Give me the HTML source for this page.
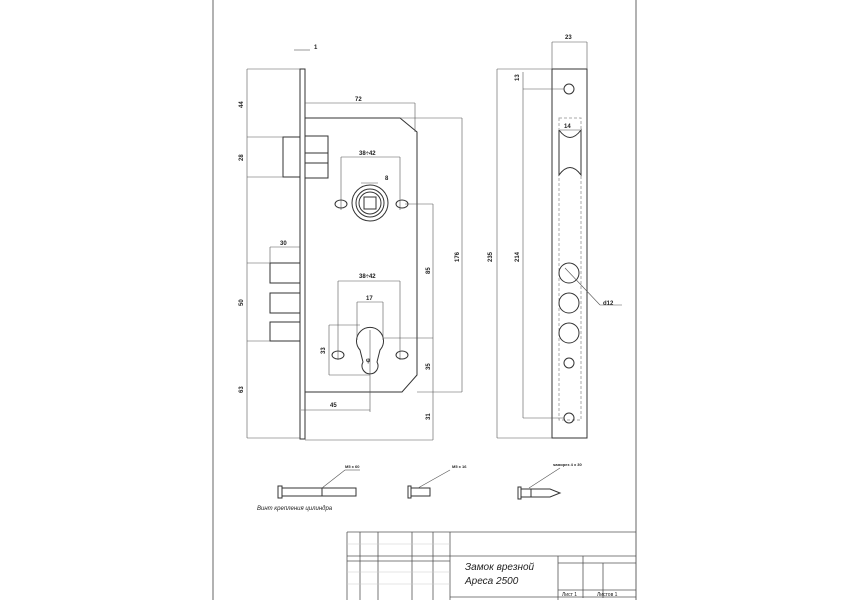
<!DOCTYPE html><html><head><meta charset="utf-8"><style>body{margin:0;background:#fff}svg{display:block}text{font-family:"Liberation Sans",sans-serif;fill:#222}</style></head><body>
<svg width="850" height="600" viewBox="0 0 850 600" xmlns="http://www.w3.org/2000/svg">
<g stroke="#999" stroke-width="1.5" fill="none"><line x1="213" y1="0" x2="213" y2="600"/><line x1="636" y1="0" x2="636" y2="600"/></g>
<g stroke="#333" stroke-width="1" fill="none">
<!-- faceplate -->
<rect x="300" y="69" width="5" height="370"/>
<!-- body -->
<path d="M305 118 H400 L417 132 V375 L402 392 H305"/>
<!-- latch -->
<rect x="283" y="137" width="17" height="40"/>
<rect x="305" y="136" width="23" height="42"/>
<line x1="305" y1="153" x2="328" y2="153"/><line x1="305" y1="163" x2="328" y2="163"/>
<!-- bolts -->
<rect x="270" y="263" width="30" height="20"/><rect x="270" y="293" width="30" height="20"/><rect x="270" y="322" width="30" height="19"/>
<!-- spindle -->
<circle cx="370" cy="203" r="18"/><circle cx="370" cy="203" r="14"/><circle cx="370" cy="203" r="11"/>
<rect x="364" y="197" width="12" height="12"/>
<ellipse cx="341" cy="204" rx="6" ry="4"/><ellipse cx="402" cy="204" rx="6" ry="4"/>
<!-- cylinder -->
<path d="M360 350 A13.5 13.5 0 1 1 380 350 L377 362 A8 8 0 1 1 363 362 Z"/>
<ellipse cx="338" cy="355" rx="6" ry="4"/><ellipse cx="402" cy="355" rx="6" ry="4"/>
<!-- strike -->
<rect x="552" y="69" width="35" height="369"/>
<rect x="559" y="118" width="22" height="302" stroke="#aaa" stroke-dasharray="3,2"/>
<path d="M559 130 V175 Q570 160 581 175 V130 Q570 145 559 130"/>
<circle cx="569" cy="89" r="5"/><circle cx="569" cy="363" r="5"/><circle cx="569" cy="418" r="5"/>
<circle cx="569" cy="273" r="10"/><circle cx="569" cy="303" r="10"/><circle cx="569" cy="333" r="10"/>
<!-- screws -->
<rect x="278" y="486" width="4" height="12"/><rect x="282" y="488" width="74" height="8"/><line x1="322" y1="488" x2="322" y2="496"/>
<rect x="408" y="486" width="3" height="12"/><rect x="411" y="488" width="19" height="8"/>
<rect x="518" y="487" width="3" height="12"/><path d="M521 489 H550 L560 493 L550 497 H521 Z"/><line x1="531" y1="489" x2="531" y2="497"/>
</g>
<g stroke="#555" stroke-width="0.6" fill="none">
<line x1="322" y1="488" x2="345" y2="470"/><line x1="345" y1="470" x2="360" y2="470"/>
<line x1="418" y1="488" x2="450" y2="470"/><line x1="529" y1="488" x2="560" y2="468"/>
<!-- dims left -->
<line x1="247" y1="69" x2="300" y2="69"/><line x1="247" y1="137" x2="283" y2="137"/><line x1="247" y1="177" x2="283" y2="177"/>
<line x1="247" y1="263" x2="270" y2="263"/><line x1="247" y1="341" x2="270" y2="341"/><line x1="247" y1="438" x2="300" y2="438"/>
<line x1="247" y1="69" x2="247" y2="438"/>
<line x1="270" y1="247" x2="300" y2="247"/><line x1="270" y1="247" x2="270" y2="263"/>
<line x1="294" y1="50" x2="310" y2="50"/>
<line x1="305" y1="103" x2="415" y2="103"/><line x1="415" y1="103" x2="415" y2="132"/>
<line x1="400" y1="118" x2="462" y2="118"/><line x1="462" y1="118" x2="462" y2="392"/><line x1="417" y1="392" x2="462" y2="392"/>
<line x1="405" y1="204" x2="433" y2="204"/><line x1="433" y1="204" x2="433" y2="440"/><line x1="384" y1="338" x2="433" y2="338"/>
<line x1="305" y1="440" x2="433" y2="440"/>
<line x1="341" y1="157" x2="341" y2="210"/><line x1="400" y1="157" x2="400" y2="210"/><line x1="341" y1="157" x2="400" y2="157"/>
<line x1="361" y1="183" x2="378" y2="183"/>
<line x1="338" y1="281" x2="338" y2="360"/><line x1="400" y1="281" x2="400" y2="360"/><line x1="338" y1="281" x2="400" y2="281"/>
<line x1="357" y1="302" x2="383" y2="302"/><line x1="357" y1="302" x2="357" y2="340"/><line x1="383" y1="302" x2="383" y2="340"/>
<line x1="329" y1="325" x2="360" y2="325"/><line x1="329" y1="375" x2="370" y2="375"/><line x1="329" y1="325" x2="329" y2="375"/>
<line x1="370" y1="330" x2="370" y2="412"/><line x1="301" y1="410" x2="370" y2="410"/>
<line x1="497" y1="69" x2="552" y2="69"/><line x1="497" y1="438" x2="552" y2="438"/><line x1="497" y1="69" x2="497" y2="438"/>
<line x1="523" y1="89" x2="564" y2="89"/><line x1="523" y1="418" x2="564" y2="418"/><line x1="523" y1="72" x2="523" y2="418"/>
<line x1="552" y1="42" x2="552" y2="69"/><line x1="587" y1="42" x2="587" y2="69"/><line x1="552" y1="42" x2="587" y2="42"/>
<line x1="560" y1="130" x2="580" y2="130"/>
<line x1="565" y1="268" x2="600" y2="305"/><line x1="600" y1="305" x2="622" y2="305"/>
</g>
<g font-size="6" font-weight="bold">
<text x="314" y="49">1</text>
<text x="243" y="108" transform="rotate(-90 243 108)">44</text>
<text x="243" y="161" transform="rotate(-90 243 161)">28</text>
<text x="243" y="306" transform="rotate(-90 243 306)">50</text>
<text x="243" y="393" transform="rotate(-90 243 393)">63</text>
<text x="280" y="245">30</text>
<text x="355" y="101">72</text>
<text x="359" y="155">38÷42</text>
<text x="385" y="180">8</text>
<text x="359" y="278">38÷42</text>
<text x="366" y="300">17</text>
<text x="325" y="354" transform="rotate(-90 325 354)">33</text>
<text x="366" y="362">φ</text>
<text x="330" y="407">45</text>
<text x="430" y="274" transform="rotate(-90 430 274)">85</text>
<text x="430" y="370" transform="rotate(-90 430 370)">35</text>
<text x="430" y="420" transform="rotate(-90 430 420)">31</text>
<text x="459" y="262" transform="rotate(-90 459 262)">176</text>
<text x="492" y="262" transform="rotate(-90 492 262)">235</text>
<text x="519" y="262" transform="rotate(-90 519 262)">214</text>
<text x="519" y="81" transform="rotate(-90 519 81)">13</text>
<text x="565" y="39">23</text>
<text x="564" y="128">14</text>
<text x="603" y="305">d12</text>
<text x="345" y="468" font-size="4">M5 x 60</text>
<text x="452" y="468" font-size="4">M5 x 16</text>
<text x="553" y="466" font-size="4">saмopeз 4 x 30</text>
</g>
<text x="257" y="510" font-size="6" font-style="italic" fill="#555">Винт крепления цилиндра</text>
<g stroke="#555" stroke-width="0.8" fill="none">
<line x1="347" y1="532" x2="636" y2="532"/><line x1="347" y1="532" x2="347" y2="600"/>
<line x1="360" y1="532" x2="360" y2="600"/><line x1="378" y1="532" x2="378" y2="600"/><line x1="412" y1="532" x2="412" y2="600"/><line x1="433" y1="532" x2="433" y2="600"/><line x1="450" y1="532" x2="450" y2="600"/>
<line x1="347" y1="556" x2="636" y2="556"/><line x1="347" y1="561" x2="450" y2="561"/>
<line x1="558" y1="556" x2="558" y2="600"/><line x1="583" y1="556" x2="583" y2="598"/><line x1="603" y1="563" x2="603" y2="598"/>
<line x1="558" y1="563" x2="636" y2="563"/><line x1="558" y1="590" x2="636" y2="590"/><line x1="450" y1="597" x2="636" y2="597"/>
</g>
<g stroke="#ccc" stroke-width="0.5"><line x1="347" y1="572" x2="450" y2="572"/><line x1="347" y1="584" x2="450" y2="584"/><line x1="347" y1="544" x2="450" y2="544"/></g>
<text x="465" y="570" font-size="10" font-style="italic">Замок врезной</text>
<text x="465" y="584" font-size="10" font-style="italic">Ареса 2500</text>
<text x="562" y="596" font-size="5">Лист 1</text><text x="597" y="596" font-size="5">Листов 1</text>
</svg></body></html>
